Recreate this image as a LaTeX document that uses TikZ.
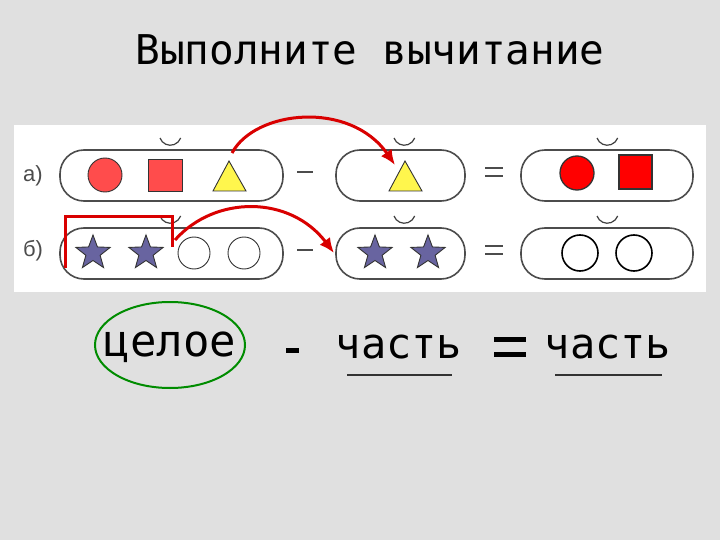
\documentclass[tikz,border=0pt]{standalone}
\usepackage{fontspec}
\newfontfamily\monof{DejaVu Sans Mono}
\newfontfamily\lsans{Liberation Sans}
\definecolor{starc}{RGB}{104,100,160}
\usetikzlibrary{shapes.geometric,arrows.meta}
\begin{document}
\begin{tikzpicture}[x=1pt,y=-1pt,
 pill/.style={draw=black!70,line width=1.6pt,rounded corners=24pt},
 smile/.style={draw=black!75,line width=1.2pt},
 fig/.style={draw=black!80,line width=0.9pt},
 redarr/.style={draw=red!85!black,line width=3pt,-{Latex[length=15pt,width=13pt]}},
 lbl/.style={font=\lsans\fontsize{22}{24}\selectfont,text=black!70},
 big/.style={font=\monof\fontsize{42}{46}\selectfont}]
\useasboundingbox (0,0) rectangle (720,540);
\fill[black!12] (0,0) rectangle (720,540);
\fill[white] (14,125) rectangle (706,292);
\node[font=\monof\fontsize{41}{44}\selectfont] (title) at (370,50) {Выполните вычитание};
% pills
\foreach \y/\n in {150/a,228/b}{
 \draw[pill] (60,\y) rectangle (283,\y+51);
 \draw[pill] (336,\y) rectangle (465,\y+51);
 \draw[pill] (521,\y) rectangle (693,\y+51);
 \draw[smile] (160,\y-12) arc[start angle=160,end angle=20,radius=11];
 \draw[smile] (394,\y-12) arc[start angle=160,end angle=20,radius=11];
 \draw[smile] (597,\y-12) arc[start angle=160,end angle=20,radius=11];
 \draw[black!70,line width=1.5pt] (297,\y+22) -- (313,\y+22);
 \draw[black!70,line width=1.5pt] (485,\y+18) -- (503,\y+18) (485,\y+26) -- (503,\y+26);
}
\node[lbl] (la) at (33,176) {а)};
\node[lbl] (lb) at (33,251) {б)};
% row a
\draw[fig,fill=red!70] (105,175) circle (17);
\draw[fig,fill=red!70] (148,159) rectangle (182,191);
\draw[fig,fill=yellow!70] (229,161) -- (246,191) -- (213,191) -- cycle;
\draw[fig,fill=yellow!70] (405,161) -- (422,191) -- (389,191) -- cycle;
\draw[fig,line width=1.3pt,fill=red] (577,173) circle (17);
\draw[fig,line width=1.3pt,fill=red] (619,155) rectangle (652,189);
% row b
\foreach \x in {93,146,375,428}
 \node[fig,star,star points=5,star point ratio=2.4,minimum size=36pt,inner sep=0pt,fill=starc] at (\x,253) {};
\draw[fig] (194,253) circle (16);
\draw[fig] (244,253) circle (16);
\draw[line width=1.6pt] (580,253) circle (18);
\draw[line width=1.6pt] (634,253) circle (18);
% red marks
\draw[red!85!black,line width=3pt] (65,268) -- (65,217) -- (172,217) -- (172,247);
\coordinate (a1) at (232,153); \coordinate (a2) at (395,165);
\coordinate (b1) at (175,240); \coordinate (b2) at (334,253);
\draw[redarr] (a1) .. controls (255,110) and (350,100) .. (a2);
\draw[redarr] (b1) .. controls (215,195) and (290,195) .. (b2);
% bottom
\node[big,font=\monof\fontsize{44}{48}\selectfont] (w) at (170,347) {целое};
\draw[draw=green!55!black,line width=2pt] (170,345) ellipse (75 and 43);
\draw[line width=5pt] (286,350) -- (299,350);
\node[big] (p1) at (399,347) {часть};
\draw[line width=2pt,black!80] (347,375) -- (452,375);
\draw[line width=5pt] (494,339) -- (526,339) (494,354) -- (526,354);
\node[big] (p2) at (608,347) {часть};
\draw[line width=2pt,black!80] (555,375) -- (662,375);
\end{tikzpicture}
\end{document}
